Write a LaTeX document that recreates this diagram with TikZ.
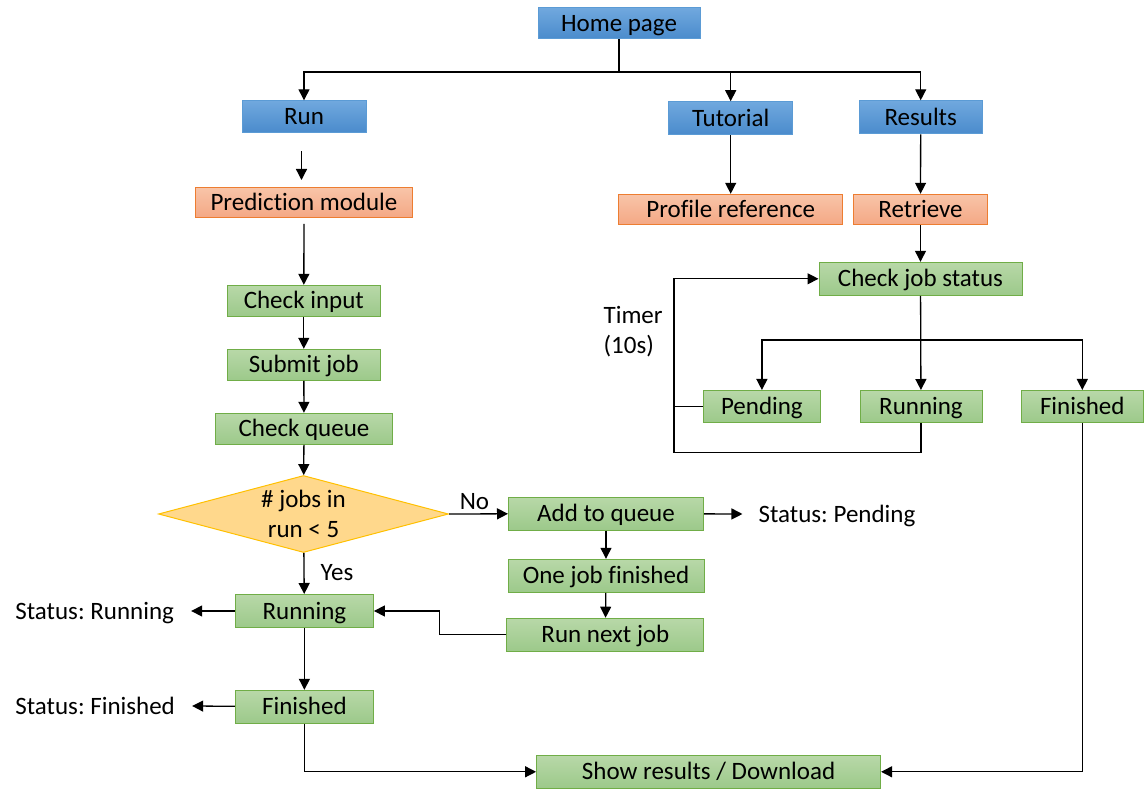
\documentclass[tikz,border=0pt]{standalone}
\usepackage{fontspec}
\setmainfont{Carlito}[Ligatures=NoCommon]
\frenchspacing
\usetikzlibrary{shapes.geometric,arrows.meta}
\definecolor{bluetop}{HTML}{70A8DE}
\definecolor{bluebot}{HTML}{4A8BCC}
\definecolor{blueline}{HTML}{5B9BD5}
\definecolor{orangetop}{HTML}{F8C4A8}
\definecolor{orangebot}{HTML}{F4A885}
\definecolor{orangeline}{HTML}{ED7D31}
\definecolor{greentop}{HTML}{B8D8A8}
\definecolor{greenbot}{HTML}{9CC98A}
\definecolor{greenline}{HTML}{70AD47}
\definecolor{goldfill}{HTML}{FFD88C}
\definecolor{goldline}{HTML}{FFC000}
\tikzset{
  txt/.style={inner sep=0pt, font=\fontsize{25}{30}\selectfont},
  lbl/.style={txt, text height=21.25pt, text depth=5.15pt},
  base/.style={lbl, rectangle, line width=1pt},
  bluebox/.style={base, draw=blueline, top color=bluetop, bottom color=bluebot},
  orangebox/.style={base, draw=orangeline, top color=orangetop, bottom color=orangebot},
  greenbox/.style={base, draw=greenline, top color=greentop, bottom color=greenbot},
  decision/.style={txt, diamond, align=center, draw=goldline, fill=goldfill, line width=1pt,
    shape aspect=3.77, inner ysep=-10pt, minimum width=290pt, minimum height=77pt},
  link/.style={line width=1.3pt},
  arr/.style={link, -{Triangle[length=11pt,width=11pt]}}
}
\begin{document}
\begin{tikzpicture}[x=1pt,y=-1pt]
\useasboundingbox (0,0) rectangle (1144,802);
% top level
\node[bluebox, minimum width=162pt, minimum height=31pt] (home) at (619,23.5) {Home page};
\node[bluebox, minimum width=124pt, minimum height=32pt] (run) at (304,116.8) {Run};
\node[bluebox, minimum width=124pt, minimum height=33pt] (tut) at (730.7,118.2) {Tutorial};
\node[bluebox, minimum width=123pt, minimum height=33pt] (res) at (920.7,117.3) {Results};
\node[orangebox, minimum width=217pt, minimum height=30pt] (pred) at (304,202.5) {Prediction module};
\node[orangebox, minimum width=224pt, minimum height=30pt] (prof) at (730.7,209.3) {Profile reference};
\node[orangebox, minimum width=134pt, minimum height=30pt] (retr) at (920.5,209.3) {Retrieve};
% run branch
\node[greenbox, minimum width=153pt, minimum height=31pt] (chkin) at (303.8,300.8) {Check input};
\node[greenbox, minimum width=153pt, minimum height=31pt] (submit) at (303.8,364.8) {Submit job};
\node[greenbox, minimum width=177pt, minimum height=31pt] (chkq) at (304,428.8) {Check queue};
\node[decision] (dec) at (303.5,514) {\# jobs in\\run < 5};
\node[greenbox, minimum width=195pt, minimum height=33pt] (addq) at (606,513.5) {Add to queue};
\node[greenbox, minimum width=196pt, minimum height=33pt] (onejob) at (606,575.8) {One job finished};
\node[greenbox, minimum width=197pt, minimum height=33pt] (runnext) at (605.4,634.7) {Run next job};
\node[greenbox, minimum width=138pt, minimum height=33pt] (runL) at (304.4,611) {Running};
\node[greenbox, minimum width=138pt, minimum height=33pt] (finL) at (304.4,706.8) {Finished};
\node[greenbox, minimum width=344pt, minimum height=33pt] (show) at (708.6,771.8) {Show results / Download};
\node[lbl] (stPend) at (837,514) {Status: Pending};
\node[lbl] (stRun) at (94.7,611) {Status: Running};
\node[lbl] (stFin) at (95.2,706) {Status: Finished};
\node[lbl] (no) at (474.5,501) {No};
\node[lbl] (yes) at (337,572) {Yes};
% results branch
\node[greenbox, minimum width=203pt, minimum height=33pt] (chkjs) at (920.5,278.8) {Check job status};
\node[greenbox, minimum width=117pt, minimum height=32pt] (pend) at (761.9,406.5) {Pending};
\node[greenbox, minimum width=122pt, minimum height=32pt] (runR) at (921,406.5) {Running};
\node[greenbox, minimum width=122pt, minimum height=32pt] (finR) at (1082.3,406.5) {Finished};
\node[txt, align=left, anchor=west] (timer) at (603.4,331.7) {Timer\\(10s)};
\coordinate (top) at (619,72);
\coordinate (split) at (920.5,340);
% connectors
\draw[link] (home) -- (top);
\draw[arr] (top) -| (run);
\draw[arr] (top) -| (res);
\draw[arr] (tut |- top) -- (tut);
\draw[arr] (tut) -- (prof);
\draw[arr] (res) -- (retr);
\draw[arr, shorten <=18pt, shorten >=7pt] ([xshift=-2.5pt]run.south) -- ([xshift=-2.5pt]pred.north);
\draw[arr, shorten <=6pt] (pred) -- (chkin);
\draw[arr] (chkin) -- (submit);
\draw[arr] (submit) -- (chkq);
\draw[arr] (chkq) -- (dec);
\draw[arr] (dec) -- (runL);
\draw[arr] (dec.east) -- (addq);
\draw[arr] (addq) -- ([xshift=-16pt]stPend.west);
\draw[arr] (addq) -- (onejob);
\draw[arr] (onejob) -- (runnext);
\draw[arr] (runnext.west) -- ++(-67,0) |- (runL.east);
\draw[arr] (runL) -- ([xshift=17pt]stRun.east);
\draw[arr] (runL) -- (finL);
\draw[arr] (finL) -- ([xshift=17pt]stFin.east);
\draw[arr] (finL) |- (show);
\draw[arr] (finR) |- (show);
\draw[arr] (retr) -- (chkjs);
\draw[arr] (chkjs) -- (runR);
\draw[arr] (split) -| (pend);
\draw[arr] (split) -| (finR);
\draw[arr] (runR.south) -- ++(0,29.5) -| ([xshift=-29pt]pend.west) |- (chkjs.west);
\draw[link] (pend.west) -- ++(-29,0);
\end{tikzpicture}
\end{document}
